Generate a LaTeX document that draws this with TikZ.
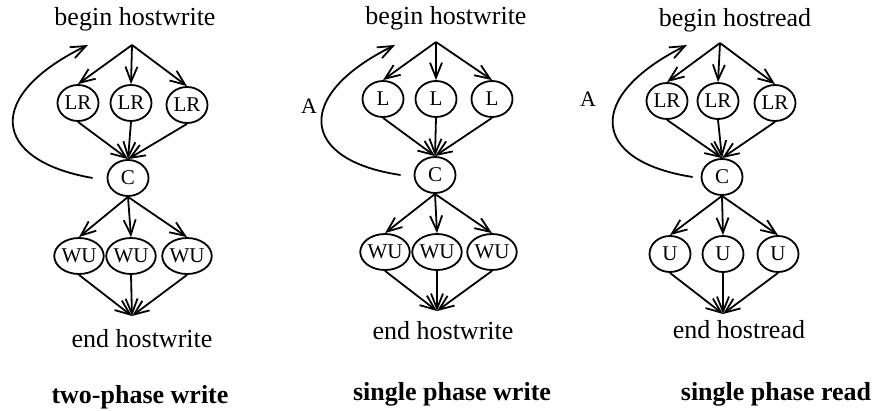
\documentclass[tikz,border=0pt]{standalone}
\usepackage{fontspec}
\setmainfont{Liberation Serif}
\usetikzlibrary{shapes.geometric,arrows.meta}

\begin{document}
\begin{tikzpicture}[x=1pt,y=-1pt,
  line width=1.8pt,
  stage/.style={draw, ellipse, minimum width=41pt, minimum height=36pt, inner sep=0pt,
                font=\fontsize{21}{23}\selectfont},
  flow/.style={-{Straight Barb[length=15pt,width=12pt,line width=1.8pt]}},
  hdr/.style={anchor=base, inner sep=0pt, font=\fontsize{26}{30}\selectfont},
  caption/.style={anchor=base, inner sep=0pt, font=\fontsize{26}{30}\selectfont\bfseries},
  looplabel/.style={inner sep=0pt, font=\fontsize{22}{24}\selectfont}]
\useasboundingbox (0,0) rectangle (877,410);

% ---------- two-phase write ----------
\node[hdr] (b1) at (135,25) {begin hostwrite};
\coordinate (s1) at (132,45);
\node[stage] (x11) at (78,103) {LR};
\node[stage] (x12) at (131,103) {LR};
\node[stage] (x13) at (187,105) {LR};
\node[stage] (c1) at (128,178) {C};
\node[stage] (y11) at (79,256) {WU};
\node[stage] (y12) at (131,256) {WU};
\node[stage] (y13) at (187,256) {WU};
\coordinate (m1) at (132,316);
\node[hdr] (e1) at (142,347) {end hostwrite};
\node[caption] (t1) at (140,403) {two-phase write};
\coordinate (r1) at (88,45);
\foreach \n in {x11,x12,x13} {
  \draw[flow] (s1) -- (\n.north);
  \draw[flow] (\n.south) -- (c1.north);
}
\foreach \n in {y11,y12,y13} {
  \draw[flow] (c1.south) -- (\n.north);
  \draw[flow] (\n.south) -- (m1);
}
\draw[flow] ([xshift=-14pt]c1.west) .. controls (-10,160) and (-15,95) .. (r1);

% ---------- single phase write ----------
\node[hdr] (b2) at (446,24) {begin hostwrite};
\coordinate (s2) at (436,42);
\node[stage] (x21) at (383,99) {L};
\node[stage] (x22) at (436,99) {L};
\node[stage] (x23) at (492,99) {L};
\node[stage] (c2) at (435,175) {C};
\node[stage] (y21) at (385,252) {WU};
\node[stage] (y22) at (437,252) {WU};
\node[stage] (y23) at (492,252) {WU};
\coordinate (m2) at (437,311);
\node[hdr] (e2) at (443,339) {end hostwrite};
\node[caption] (t2) at (452,400) {single phase write};
\coordinate (r2) at (395,45);
\node[looplabel] (a2) at (309,106) {A};
\foreach \n in {x21,x22,x23} {
  \draw[flow] (s2) -- (\n.north);
  \draw[flow] (\n.south) -- (c2.north);
}
\foreach \n in {y21,y22,y23} {
  \draw[flow] (c2.south) -- (\n.north);
  \draw[flow] (\n.south) -- (m2);
}
\draw[flow] ([xshift=-13pt]c2.west) .. controls (299,160) and (294,95) .. (r2);

% ---------- single phase read ----------
\node[hdr] (b3) at (735,26) {begin hostread};
\coordinate (s3) at (720,43);
\node[stage] (x31) at (667,101) {LR};
\node[stage] (x32) at (718,101) {LR};
\node[stage] (x33) at (775,103) {LR};
\node[stage] (c3) at (722,177) {C};
\node[stage] (y31) at (670,254) {U};
\node[stage] (y32) at (723,254) {U};
\node[stage] (y33) at (778,254) {U};
\coordinate (m3) at (723,314);
\node[hdr] (e3) at (739,338) {end hostread};
\node[caption] (t3) at (776,400) {single phase read};
\coordinate (r3) at (687,45);
\node[looplabel] (a3) at (588,99) {A};
\foreach \n in {x31,x32,x33} {
  \draw[flow] (s3) -- (\n.north);
  \draw[flow] (\n.south) -- (c3.north);
}
\foreach \n in {y31,y32,y33} {
  \draw[flow] (c3.south) -- (\n.north);
  \draw[flow] (\n.south) -- (m3);
}
\draw[flow] ([xshift=-8pt]c3.west) .. controls (590,161) and (585,96) .. (r3);
\end{tikzpicture}
\end{document}
